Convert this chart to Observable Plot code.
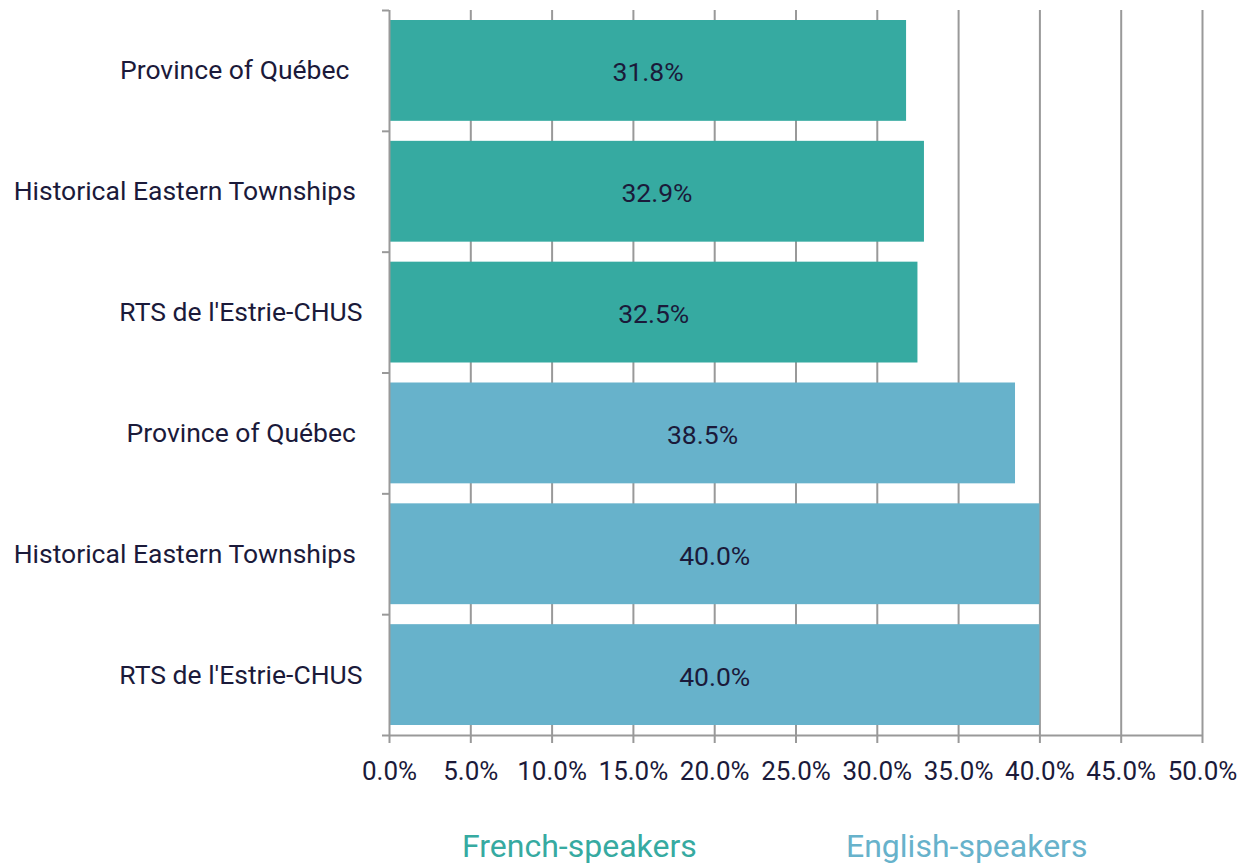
<!DOCTYPE html>
<html>
<head>
<meta charset="utf-8">
<script src="https://cdn.jsdelivr.net/npm/d3@7"></script>
<script src="https://cdn.jsdelivr.net/npm/@observablehq/plot@0.6"></script>
<style>
  body { margin: 0; background: #fff; font-family: Roboto, sans-serif; }
  #legend { position: relative; height: 65px; font-size: 32px; }
  #legend span { position: absolute; top: 27px; white-space: nowrap; }
  svg text { white-space: pre; }
</style>
</head>
<body>
<div id="chart"></div>
<div id="legend"></div>
<script>
// Data
const frenchCategories = ["Province of Québec  ", "Historical Eastern Townships ", "RTS de l'Estrie-CHUS"];
const englishCategories = ["Province of Québec ", "Historical Eastern Townships ", "RTS de l'Estrie-CHUS"];
const groups = ["French-speakers", "English-speakers"];
const frenchValues = [31.8, 32.9, 32.5];
const englishValues = [38.5, 40.0, 40.0];
const xTicks = [0, 5, 10, 15, 20, 25, 30, 35, 40, 45, 50];
const colors = ["#36aaa1", "#67b2cb"];

const rows = groups.flatMap((g, gi) => {
  const cats = gi === 0 ? frenchCategories : englishCategories;
  const vals = gi === 0 ? frenchValues : englishValues;
  return cats.map((c, ci) => ({
    row: gi * cats.length + ci,
    label: c,
    group: g,
    value: vals[ci]
  }));
});

const gray = "#999999";
const ink = "#1b1a3a";

const chart = Plot.plot({
  width: 1251,
  height: 800,
  marginLeft: 389,
  marginRight: 49,
  marginTop: 10,
  marginBottom: 65,
  style: { fontFamily: "Roboto, sans-serif", color: ink, background: "#fff" },
  x: { domain: [0, 50] },
  y: { domain: [0, rows.length], reverse: true },
  color: { domain: groups, range: colors },
  marks: [
    Plot.gridX({ ticks: xTicks.slice(1), stroke: gray, strokeOpacity: 1, strokeWidth: 2 }),
    Plot.rectX(rows, {
      x1: d => 0, x2: "value", y1: "row", y2: d => d.row + 1,
      fill: "group", insetTop: 10, insetBottom: 10
    }),
    Plot.ruleX([0], { stroke: gray, strokeWidth: 2 }),
    Plot.ruleY([rows.length], { stroke: gray, strokeWidth: 2 }),
    Plot.axisY({ ticks: d3.range(rows.length + 1), tickSize: 7, tickFormat: () => "", stroke: gray, strokeWidth: 2, label: null }),
    Plot.axisY({
      ticks: rows.map(r => r.row + 0.5), tickSize: 0, tickPadding: 27,
      tickFormat: v => rows[Math.floor(v)].label, fontSize: 26.5, fill: ink, label: null
    }),
    Plot.axisX({ ticks: xTicks, tickSize: 8, tickFormat: () => "", stroke: gray, strokeWidth: 2, label: null }),
    Plot.axisX({
      ticks: xTicks, tickSize: 0, tickPadding: 26,
      tickFormat: d => d.toFixed(1) + "%", fontSize: 26, fill: ink, label: null
    }),
    Plot.text(rows, {
      x: d => d.value / 2, y: d => d.row + 0.5, dy: 2,
      text: d => d.value.toFixed(1) + "%", fontSize: 26.5, fill: ink
    })
  ]
});
document.getElementById("chart").appendChild(chart);

const legend = document.getElementById("legend");
const legendLeft = [462, 846];
groups.forEach((g, i) => {
  const s = document.createElement("span");
  s.textContent = g;
  s.style.color = colors[i];
  s.style.left = legendLeft[i] + "px";
  legend.appendChild(s);
});
</script>
</body>
</html>
